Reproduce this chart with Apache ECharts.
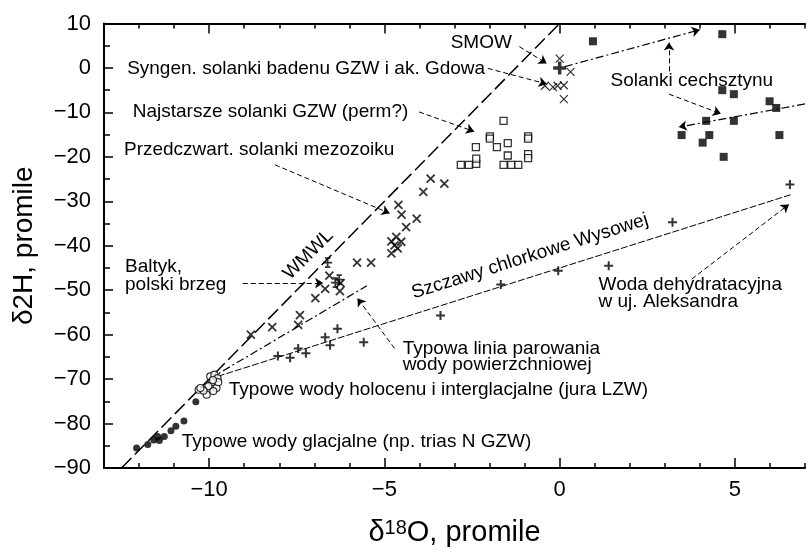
<!DOCTYPE html>
<html><head><meta charset="utf-8">
<script src="https://cdn.jsdelivr.net/npm/echarts@6/dist/echarts.min.js"></script>
<style>html,body{margin:0;padding:0;background:#fff}#c{width:808px;height:552px}</style>
</head><body><div id="c"></div>
<script>
// ---- data ----
const xTicksMajor = [-10, -5, 0, 5];
const solankiCechsztynu = [[0.95,6.0],[4.64,7.6],[4.64,-5.0],[4.97,-5.9],[5.99,-7.5],[6.18,-9.0],[4.18,-11.9],[4.97,-11.9],[3.48,-15.1],[4.27,-15.1],[6.27,-15.1],[4.08,-16.8],[4.68,-20.0]];
const solankiGZWperm = [[-2.82,-21.8],[-2.59,-21.8],[-2.38,-21.6],[-2.38,-20.4],[-2.39,-17.8],[-1.99,-15.4],[-1.99,-15.9],[-1.60,-11.9],[-1.79,-17.8],[-1.48,-16.9],[-1.60,-21.8],[-1.38,-21.8],[-1.18,-21.8],[-1.48,-19.7],[-0.90,-15.4],[-0.90,-15.9],[-0.90,-19.4],[-0.90,-20.3]];
const syngenBaden = [[0.0,2.1],[0.31,-0.9],[-0.42,-4.0],[-0.19,-4.3],[-0.06,-4.0],[0.12,-3.9],[0.12,-7.0]];
const mezozoik = [[-3.68,-24.9],[-3.29,-26.0],[-3.89,-27.9],[-4.60,-30.8],[-4.51,-33.0],[-4.08,-33.9],[-4.38,-35.8],[-4.66,-38.0],[-4.80,-39.0],[-4.52,-39.1],[-4.71,-39.9],[-4.62,-40.6],[-4.80,-41.7],[-5.78,-43.8],[-5.38,-43.8],[-6.57,-46.7],[-6.69,-49.7],[-6.97,-51.8],[-6.27,-50.2],[-6.25,-48.4],[-8.20,-58.3],[-8.81,-60.0],[-7.46,-57.8],[-7.41,-55.6]];
const baltyk = [[-6.62,-43.8],[-6.29,-47.6],[-6.40,-48.3]];
const szczawy = [[6.57,-26.2],[3.22,-34.7],[1.40,-44.5],[-0.04,-45.6],[-1.68,-48.7],[-3.40,-55.7],[-5.59,-61.7],[-6.34,-58.7],[-6.69,-60.6],[-6.55,-62.4],[-7.46,-63.1],[-7.24,-64.2],[-7.69,-65.2],[-8.04,-64.8]];
const holocen = [[-9.97,-69.4],[-9.85,-69.0],[-9.76,-69.8],[-9.93,-70.7],[-10.02,-71.6],[-9.79,-72.0],[-10.30,-72.4],[-10.07,-73.5],[-9.88,-72.7],[-10.16,-72.6],[-9.74,-70.7],[-10.25,-72.0],[-9.89,-70.2]];
const glacjalne = [[-12.07,-85.5],[-11.75,-84.7],[-11.58,-83.7],[-11.47,-82.9],[-11.42,-83.8],[-11.28,-82.9],[-11.09,-81.6],[-10.95,-80.6],[-10.72,-79.4],[-10.38,-75.1]];
const smow = [[0,0]];
// lines
const wmwlLine = [[-12.5,-90],[0,10]];
const parowanieLine = [[-10,-70],[-5.5,-49]];
const szczawyLine = [[-10,-70],[6.6,-28.5]];
const cechUpper = [[0.15,0.3],[4.0,8.6]];
const cechLower = [[7.0,-8.1],[3.4,-13.3]];
const leaders = [
  [[-1.15,4.8],[-0.37,1.0]],
  [[-2.05,-0.1],[-0.37,-3.6]],
  [[-4.01,-9.9],[-2.44,-14.3]],
  [[-8.12,-21.8],[-4.85,-32.7]],
  [[-9.04,-48.4],[-6.75,-48.4]],
  [[-4.71,-63.1],[-5.77,-51.8]],
  [[3.77,-47.5],[6.54,-30.7]],
  [[3.12,-0.75],[3.12,5.7]],
  [[3.12,-5.9],[4.60,-10.3]]
];
// annotations: [x, y, text, rotateDeg, align]
const annotations = [
  [-3.11, 5.68, 'SMOW', 0, 'left'],
  [-12.34, -0.09, 'Syngen. solanki badenu GZW i ak. Gdowa', 0, 'left'],
  [-12.18, -9.84, 'Najstarsze solanki GZW (perm?)', 0, 'left'],
  [-12.43, -18.5, 'Przedczwart. solanki mezozoiku', 0, 'left'],
  [-12.40, -44.7, 'Baltyk,', 0, 'left'],
  [-12.40, -48.7, 'polski brzeg', 0, 'left'],
  [-7.17, -42.0, 'WMWL', 45, 'center'],
  [1.45, -2.97, 'Solanki cechsztynu', 0, 'left'],
  [-0.85, -42.4, 'Szczawy chlorkowe Wysowej', 17.5, 'center'],
  [1.11, -48.7, 'Woda dehydratacyjna', 0, 'left'],
  [1.11, -52.7, 'w uj. Aleksandra', 0, 'left'],
  [-4.48, -63.1, 'Typowa linia parowania', 0, 'left'],
  [-4.48, -66.8, 'wody powierzchniowej', 0, 'left'],
  [-9.44, -72.4, 'Typowe wody holocenu i interglacjalne (jura LZW)', 0, 'left'],
  [-10.78, -84.1, 'Typowe wody glacjalne (np. trias N GZW)', 0, 'left']
];

const FONT = 'Liberation Sans';
const fmt = v => (v < 0 ? '\u2212' + Math.abs(v) : String(v));
const chart = echarts.init(document.getElementById('c'), null, {renderer: 'canvas'});

const baseX = {type:'value', min:-13, max:7, interval:1, splitLine:{show:false}};
const xAxes = [
  Object.assign({}, baseX, {position:'bottom',
    axisLine:{onZero:false, lineStyle:{color:'#000', width:2}},
    axisTick:{inside:true, length:5, lineStyle:{color:'#000', width:1.5}},
    axisLabel:{color:'#000', fontFamily:FONT, fontSize:22, margin:11, formatter: v => (v % 5 === 0 ? fmt(v) : '')},
    name:'{a|δ}{s|18}{a|O, promile}', nameLocation:'middle', nameGap:50,
    nameTextStyle:{color:'#000', fontFamily:FONT, rich:{a:{fontSize:29, fontFamily:FONT, color:'#000'}, s:{fontSize:20, fontFamily:FONT, color:'#000', verticalAlign:'top', padding:[0,0,8,0]}}}
  }),
  Object.assign({}, baseX, {position:'bottom', axisLine:{show:false, onZero:false},
    axisTick:{inside:true, length:10, customValues:xTicksMajor, lineStyle:{color:'#000', width:1.5}},
    axisLabel:{show:false}}),
  Object.assign({}, baseX, {position:'top',
    axisLine:{onZero:false, lineStyle:{color:'#000', width:2}},
    axisTick:{inside:true, length:5, lineStyle:{color:'#000', width:1.5}},
    axisLabel:{show:false}}),
  Object.assign({}, baseX, {position:'top', axisLine:{show:false, onZero:false},
    axisTick:{inside:true, length:10, customValues:xTicksMajor, lineStyle:{color:'#000', width:1.5}},
    axisLabel:{show:false}})
];
const baseY = {type:'value', min:-90, max:10, splitLine:{show:false}, position:'left'};
const yAxes = [
  Object.assign({}, baseY, {interval:5,
    axisLine:{onZero:false, lineStyle:{color:'#000', width:2}},
    axisTick:{inside:true, length:6, lineStyle:{color:'#000', width:1.5}},
    axisLabel:{color:'#000', fontFamily:FONT, fontSize:22, margin:13, formatter: v => (v % 10 === 0 ? fmt(v) : '')},
    name:'δ2H, promile', nameLocation:'middle', nameGap:66, nameRotate:90,
    nameTextStyle:{color:'#000', fontFamily:FONT, fontSize:28}
  }),
  Object.assign({}, baseY, {interval:10, axisLine:{show:false, onZero:false},
    axisTick:{inside:true, length:9, lineStyle:{color:'#000', width:1.5}},
    axisLabel:{show:false}})
];

const X_PATH = 'path://M0,0L10,10M10,0L0,10';
const PLUS_PATH = 'path://M5,0L5,10M0,5L10,5';
const IBEAM_PATH = 'path://M5,0L5,10M0,5L10,5M2,0L8,0M2,10L8,10';

function scatter(name, data, symbol, size, style, extra) {
  return Object.assign({type:'scatter', name, data, symbol, symbolSize:size, itemStyle:style, z:5, silent:true}, extra || {});
}
function line(name, data, type, width) {
  return {type:'line', name, data, showSymbol:false, symbol:'none', lineStyle:{color:'#000', width, type}, z:3, silent:true, animation:false};
}
function arrows(name, data, type, width, symbols) {
  return {type:'lines', coordinateSystem:'cartesian2d', name,
    data: data.map(c => ({coords:c})),
    symbol: symbols || ['none','arrow'], symbolSize:8,
    lineStyle:{color:'#000', width, type, opacity:1}, z:4, silent:true, animation:false};
}

const option = {
  animation:false,
  backgroundColor:'#fff',
  grid:{left:104, top:23.5, width:715, height:450.5, containLabel:false},
  xAxis:xAxes, yAxis:yAxes,
  series:[
    line('WMWL', wmwlLine, [14,5], 1.5),
    line('Parowanie', parowanieLine, [8,3,2,3], 1.2),
    line('Szczawy line', szczawyLine, [7,2], 1),
    arrows('Cech upper', [cechUpper], [8,3,2,3], 1.2),
    arrows('Cech lower', [cechLower], [8,3,2,3], 1.2),
    arrows('Leaders', leaders, [5,3], 1),
    scatter('Solanki cechsztynu', solankiCechsztynu, 'rect', 8, {color:'#000'}),
    scatter('Solanki GZW perm', solankiGZWperm, 'rect', 7, {color:'#fff', borderColor:'#000', borderWidth:1.3}),
    scatter('Syngen', syngenBaden, X_PATH, 8, {color:'transparent', borderColor:'#000', borderWidth:1.2}),
    scatter('Mezozoik', mezozoik, X_PATH, 8, {color:'transparent', borderColor:'#000', borderWidth:1.8}),
    scatter('Baltyk', baltyk, IBEAM_PATH, 9, {color:'transparent', borderColor:'#000', borderWidth:1.8}),
    scatter('Szczawy', szczawy, PLUS_PATH, 9, {color:'transparent', borderColor:'#000', borderWidth:2}),
    scatter('Holocen', holocen, 'circle', 7, {color:'#fff', borderColor:'#000', borderWidth:1.2}),
    scatter('Glacjalne', glacjalne, 'circle', 7, {color:'#000'}),
    scatter('SMOW', smow, PLUS_PATH, 13, {color:'transparent', borderColor:'#000', borderWidth:3.5})
  ]
};
chart.setOption(option);

const graphics = annotations.map(a => {
  const p = chart.convertToPixel({xAxisIndex:0, yAxisIndex:0}, [a[0], a[1]]);
  return {type:'text', x:p[0], y:p[1], rotation: a[3] * Math.PI / 180, z:10, silent:true,
    style:{text:a[2], fill:'#000', font:'19px "' + FONT + '"', align:a[4], verticalAlign:'middle'}};
});
chart.setOption({graphic:graphics});
</script></body></html>
